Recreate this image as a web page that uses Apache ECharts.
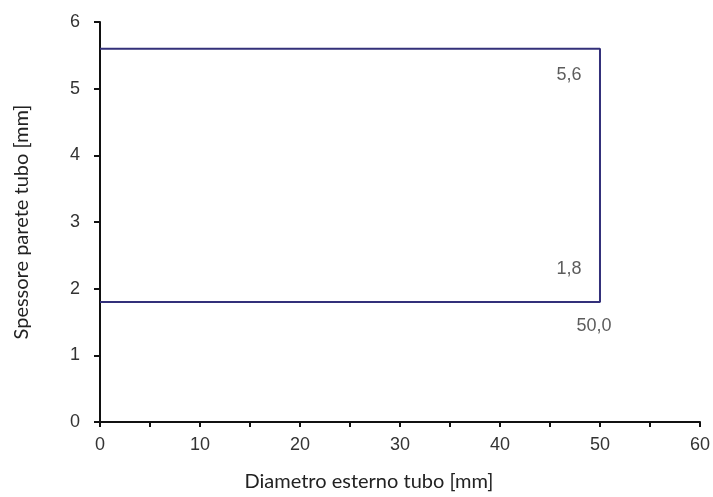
<!DOCTYPE html>
<html><head><meta charset="utf-8">
<script src="https://cdn.jsdelivr.net/npm/echarts@6/dist/echarts.min.js"></script>
<style>html,body{margin:0;padding:0;background:#fff}#c{width:713px;height:497px}</style>
</head><body><div id="c"></div>
<script>
const boundaryX = [0, 50, 50, 0];
const boundaryY = [5.6, 5.6, 1.8, 1.8];
const xTicks = [0, 10, 20, 30, 40, 50, 60];
const yTicks = [0, 1, 2, 3, 4, 5, 6];
const labelTexts = ['5,6', '1,8', '50,0'];

const chart = echarts.init(document.getElementById('c'));
const lineData = boundaryX.map((x, i) => [x, boundaryY[i]]);
const labelData = [
  { value: [50, 5.6], label: { formatter: labelTexts[0], offset: [-31, 26] } },
  { value: [50, 1.8], label: { formatter: labelTexts[1], offset: [-31, -33] } },
  { value: [50, 1.8], label: { formatter: labelTexts[2], offset: [-6, 24] } }
];
const tickFont = { fontFamily: 'Liberation Sans', fontSize: 18, color: '#333' };
chart.setOption({
  animation: false,
  grid: { left: 100, right: 11, top: 22, bottom: 73 },
  xAxis: {
    type: 'value', min: 0, max: 60, interval: 5,
    name: 'Diametro esterno tubo [mm]', nameLocation: 'middle', nameGap: 50,
    nameTextStyle: { fontFamily: 'Lato', fontSize: 20, color: '#222', padding: [0, 62, 0, 0] },
    axisLine: { show: true, lineStyle: { color: '#111', width: 2 } },
    axisTick: { show: true, length: 5, lineStyle: { color: '#111', width: 2 } },
    axisLabel: Object.assign({ margin: 14, formatter: v => xTicks.includes(v) ? String(v) : '' }, tickFont),
    splitLine: { show: false }
  },
  yAxis: {
    type: 'value', min: 0, max: 6, interval: 1,
    name: 'Spessore parete tubo [mm]', nameLocation: 'middle', nameGap: 68,
    nameTextStyle: { fontFamily: 'Lato', fontSize: 20, color: '#222' },
    axisLine: { show: true, lineStyle: { color: '#111', width: 2 } },
    axisTick: { show: true, length: 6, lineStyle: { color: '#111', width: 2 } },
    axisLabel: Object.assign({ margin: 20, formatter: v => yTicks.includes(v) ? String(v) : '' }, tickFont),
    splitLine: { show: false }
  },
  series: [
    {
      type: 'line', data: lineData, symbol: 'none',
      lineStyle: { color: '#33307a', width: 2 }
    },
    {
      type: 'scatter', data: labelData, symbolSize: 0,
      label: { show: true, position: 'inside', fontFamily: 'Liberation Sans', fontSize: 18, color: '#333' }
    }
  ]
});
</script></body></html>
